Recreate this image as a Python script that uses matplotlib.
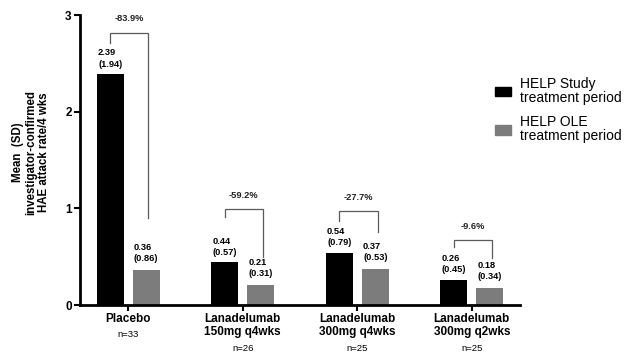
import matplotlib.pyplot as plt
import numpy as np
from matplotlib.patches import Patch

plt.rcParams['font.family'] = ['Liberation Sans', 'DejaVu Sans']

# attack rates per treatment arm
groups = ['Placebo', 'Lanadelumab\n150mg q4wks', 'Lanadelumab\n300mg q4wks', 'Lanadelumab\n300mg q2wks']
n_labels = ['n=33', 'n=26', 'n=25', 'n=25']
help_mean = [2.39, 0.44, 0.54, 0.26]
help_sd = [1.94, 0.57, 0.79, 0.45]
ole_mean = [0.36, 0.21, 0.37, 0.18]
ole_sd = [0.86, 0.31, 0.53, 0.34]
pct_change = ['-83.9%', '-59.2%', '-27.7%', '-9.6%']

# bracket heights (top, left leg end, right leg end)
br_top = [2.82, 0.99, 0.97, 0.67]
br_left = [2.71, 0.91, 0.87, 0.60]
br_right = [0.90, 0.50, 0.76, 0.49]

fig = plt.figure(figsize=(6.25, 3.52), dpi=100)
ax = fig.add_axes([0.128, 0.1335, 0.704, 0.8235])

x = np.arange(len(groups))
w = 0.235
off = 0.157
grey = '#7c7c7c'
ax.bar(x - off, help_mean, w, color='black')
ax.bar(x + off, ole_mean, w, color=grey)

for i in range(len(groups)):
    ax.annotate('%.2f\n(%.2f)' % (help_mean[i], help_sd[i]), (x[i] - off, help_mean[i]),
                xytext=(0, 4), textcoords='offset points', ha='center', va='bottom',
                fontsize=6.7, fontweight='bold', multialignment='left', linespacing=1.3)
    ax.annotate('%.2f\n(%.2f)' % (ole_mean[i], ole_sd[i]), (x[i] + off, ole_mean[i]),
                xytext=(0, 5), textcoords='offset points', ha='center', va='bottom',
                fontsize=6.7, fontweight='bold', multialignment='left', linespacing=1.3)
    # bracket between the two periods
    xl, xr = x[i] - off, x[i] + off + 0.02
    ax.plot([xl, xl, xr, xr], [br_left[i], br_top[i], br_top[i], br_right[i]],
            color='#5a5a5a', lw=0.9, solid_joinstyle='miter')
    ax.annotate(pct_change[i], ((xl + xr) / 2, br_top[i]), xytext=(0, 7),
                textcoords='offset points', ha='center', va='bottom',
                fontsize=6.7, fontweight='bold', color='#222222')

ax.set_xlim(-0.42, 3.42)
ax.set_ylim(0, 3)
ax.set_yticks([0, 1, 2, 3])
ax.set_xticks(x)
ax.set_xticklabels(groups, fontsize=8.5, fontweight='bold', linespacing=1.05)
ax.tick_params(axis='both', width=1.5, length=4, pad=2)
ax.tick_params(axis='y', labelsize=8.5)
for t in ax.get_yticklabels():
    t.set_fontweight('bold')
for side in ['top', 'right']:
    ax.spines[side].set_visible(False)
for side in ['left', 'bottom']:
    ax.spines[side].set_linewidth(2)

# sample sizes under the category names
for i in range(len(groups)):
    lines = groups[i].count('\n') + 1
    ax.annotate(n_labels[i], (x[i], 0), xycoords=('data', 'axes fraction'),
                xytext=(0, -21 - 10 * (lines - 1)), textcoords='offset points',
                ha='center', va='center', fontsize=6.8)

fig.text(0.05, 0.568, 'Mean  (SD)\ninvestigator-confirmed\nHAE attack rate/4 wks',
         rotation=90, ha='center', va='center', fontsize=8.3, fontweight='bold',
         linespacing=1.1)

handles = [Patch(color='black'), Patch(color=grey)]
leg = fig.legend(handles, ['HELP Study\ntreatment period', 'HELP OLE\ntreatment period'],
                 loc='upper left', bbox_to_anchor=(0.792, 0.782), frameon=False, fontsize=10,
                 handlelength=1.15, handleheight=0.7, handletextpad=0.62, labelspacing=0.75,
                 borderpad=0, borderaxespad=0)
for t in leg.get_texts():
    t.set_linespacing(1.0)

fig.savefig('out.png', dpi=100)
